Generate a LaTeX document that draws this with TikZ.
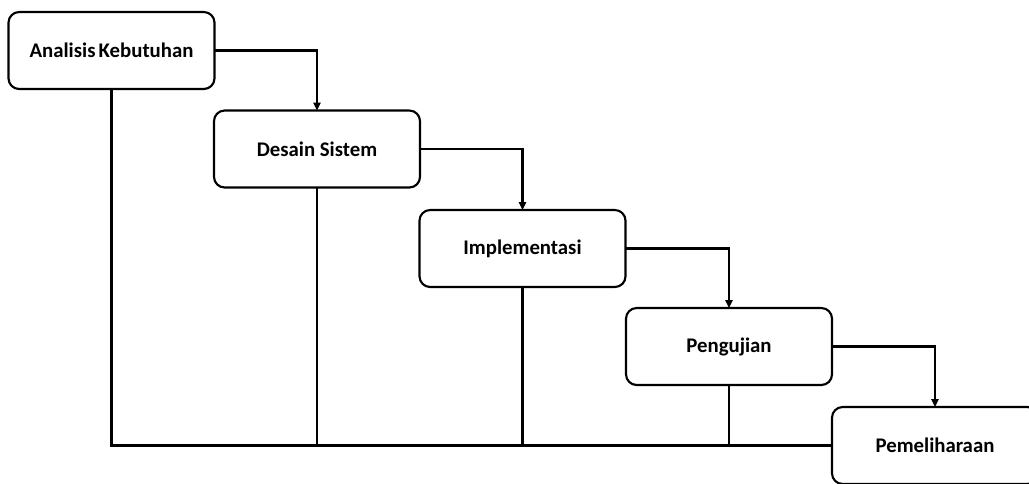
\documentclass[tikz,border=0pt]{standalone}
\usepackage{fontspec}
\setmainfont{Carlito}
\usetikzlibrary{arrows.meta}
\begin{document}
\begin{tikzpicture}[x=0.75pt,y=-0.75pt,
  phase/.style={draw=black,line width=1.6pt,rounded corners=8pt,fill=white,
    minimum width=154.5pt,minimum height=57.75pt,inner sep=0pt,outer sep=0pt,
    font=\bfseries\fontsize{15.6}{18}\selectfont},
  flow/.style={line width=1.6pt,-{Triangle[length=6pt,width=5.5pt]}},
  link/.style={line width=1.6pt}]
\useasboundingbox (0,0) rectangle (1029,483);
\clip (0,0) rectangle (1029,483);
\node[phase] (a) at (111.5,50.5) {Analisis\hspace{0.15em}Kebutuhan};
\node[phase] (b) at (317,149) {Desain Sistem};
\node[phase] (c) at (522.5,248.5) {Implementasi};
\node[phase] (d) at (729,346.5) {Pengujian};
\node[phase] (e) at (935,445.5) {Pemeliharaan};
\draw[flow] (a.east) -| (b.north);
\draw[flow] (b.east) -| (c.north);
\draw[flow] (c.east) -| (d.north);
\draw[flow] (d.east) -| (e.north);
\draw[link] (a.south) |- (e.west);
\draw[link] (b.south) -- (b.south |- e.west);
\draw[link] (c.south) -- (c.south |- e.west);
\draw[link] (d.south) -- (d.south |- e.west);
\end{tikzpicture}
\end{document}
